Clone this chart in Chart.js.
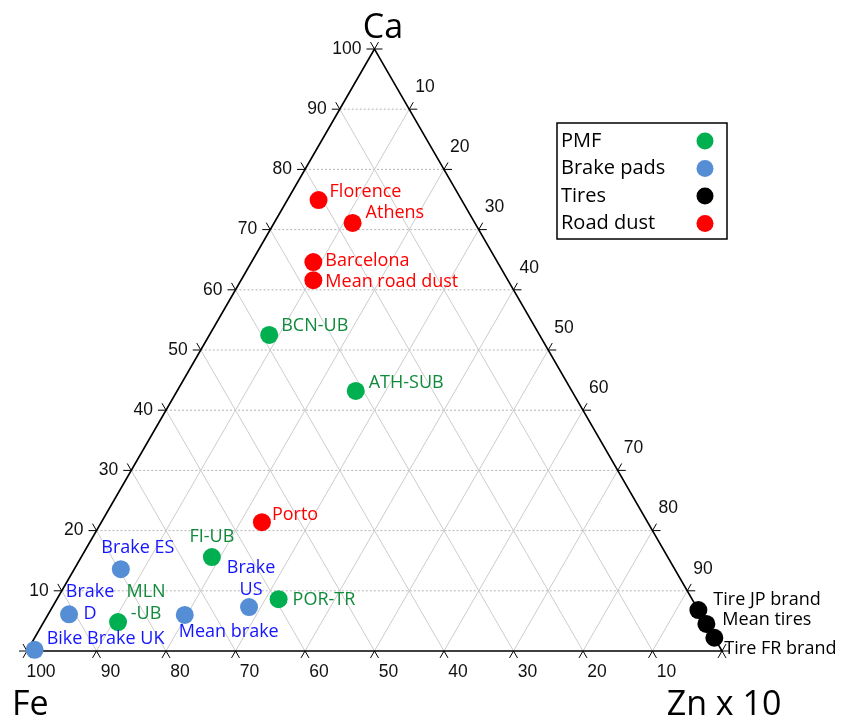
<!DOCTYPE html>
<html>
<head>
<meta charset="utf-8">
<script src="https://cdn.jsdelivr.net/npm/chart.js@4"></script>
<style>
  body { margin: 0; background: #fff; }
  #wrap { width: 845px; height: 720px; position: relative; }
</style>
</head>
<body>
<div id="wrap"><canvas id="ternChart"></canvas></div>
<script>
// DATA (percent of Ca / Fe / Zn x 10)
const pmfNames = ["BCN-UB", "ATH-SUB", "FI-UB", "POR-TR", "MLN-UB"];
const pmfCa = [52.5, 43.2, 15.6, 8.6, 4.8];
const pmfFe = [38.9, 31.1, 65.6, 59.5, 84.5];
const pmfZn = [8.6, 25.7, 18.8, 31.9, 10.7];

const brakeNames = ["Brake ES", "Brake D", "Bike Brake UK", "Mean brake", "Brake US"];
const brakeCa = [13.6, 6.1, 0.2, 6.0, 7.3];
const brakeFe = [79.7, 90.9, 98.8, 74.3, 64.4];
const brakeZn = [6.7, 3.0, 1.0, 19.7, 28.3];

const tireNames = ["Tire JP brand", "Mean tires", "Tire FR brand"];
const tireCa = [6.8, 4.5, 2.2];
const tireFe = [0, 0, 0];
const tireZn = [93.2, 95.5, 97.8];

const dustNames = ["Florence", "Athens", "Barcelona", "Mean road dust", "Porto"];
const dustCa = [74.9, 71.1, 64.6, 61.6, 21.4];
const dustFe = [20.6, 17.6, 26.5, 28.0, 55.5];
const dustZn = [4.5, 11.3, 8.9, 10.4, 23.1];

const caTicks = [10, 20, 30, 40, 50, 60, 70, 80, 90, 100];
const znTicks = [10, 20, 30, 40, 50, 60, 70, 80, 90];
const feTicks = [100, 90, 80, 70, 60, 50, 40, 30, 20, 10];

// ternary -> cartesian (x across the base, y = height)
function tern(ca, fe, zn) {
    const s = ca + fe + zn;
    return { x: 100 * (zn + ca / 2) / s, y: 100 * ca / s };
}
function toPoints(ca, fe, zn) {
    return ca.map((c, i) => tern(c, fe[i], zn[i]));
}

// label placement, offset from the dot centre
const labelPos = {
    "Florence": [11, -8, "left"],
    "Athens": [13, -10, "left"],
    "Barcelona": [12, -1, "left"],
    "Mean road dust": [12, 2, "left"],
    "Porto": [10, -7, "left"],
    "BCN-UB": [12, -9, "left"],
    "ATH-SUB": [13, -8, "left"],
    "FI-UB": [0, -20, "center"],
    "POR-TR": [14, 1, "left"],
    "MLN-UB": [28, -30, "center", ["MLN", "-UB"]],
    "Brake ES": [17, -21, "center"],
    "Brake D": [21, -22, "center", ["Brake", "D"]],
    "Bike Brake UK": [12, -11, "left"],
    "Mean brake": [-6, 17, "left"],
    "Brake US": [2, -39, "center", ["Brake", "US"]],
    "Tire JP brand": [15, -10, "left"],
    "Mean tires": [16, -4, "left"],
    "Tire FR brand": [10, 11, "left"]
};

const LABEL_FONT = '"Open Sans", sans-serif';
const TICK_FONT = '"Liberation Sans", Arial, sans-serif';

function pix(chart, p) {
    return [chart.scales.x.getPixelForValue(p.x), chart.scales.y.getPixelForValue(p.y)];
}

// grid, frame, ticks and tick labels
const ternGrid = {
    id: "ternGrid",
    beforeDatasetsDraw(chart) {
        const ctx = chart.ctx;
        const ext = 8;
        ctx.save();
        const fams = [
            i => [tern(i, 100 - i, 0), tern(i, 0, 100 - i)],   // Ca
            i => [tern(100 - i, i, 0), tern(0, i, 100 - i)],   // Fe
            i => [tern(100 - i, 0, i), tern(0, 100 - i, i)]    // Zn
        ];
        fams.forEach((fam, f) => {
            for (let i = 0; i <= 100; i += 10) {
                let [a, b] = fam(i).map(p => pix(chart, p));
                if (i > 0 && i < 100) {
                    ctx.beginPath();
                    ctx.strokeStyle = f === 0 ? "#b4b4b4" : "#cccccc";
                    ctx.lineWidth = 1;
                    ctx.setLineDash(f === 0 ? [2, 2] : []);
                    ctx.moveTo(a[0], a[1]);
                    ctx.lineTo(b[0], b[1]);
                    ctx.stroke();
                }
                ctx.setLineDash([]);
                ctx.strokeStyle = "#000";
                ctx.lineWidth = 1;
                let dx, dy;
                if (i === 100) {
                    const [a2, b2] = fam(50).map(p => pix(chart, p));
                    dx = b2[0] - a2[0]; dy = b2[1] - a2[1];
                } else {
                    dx = b[0] - a[0]; dy = b[1] - a[1];
                }
                const len = Math.hypot(dx, dy);
                dx /= len; dy /= len;
                ctx.beginPath();
                ctx.moveTo(a[0], a[1]);
                ctx.lineTo(a[0] - dx * ext, a[1] - dy * ext);
                ctx.moveTo(b[0], b[1]);
                ctx.lineTo(b[0] + dx * ext, b[1] + dy * ext);
                ctx.stroke();
            }
        });

        // triangle frame
        const top = pix(chart, tern(100, 0, 0));
        const left = pix(chart, tern(0, 100, 0));
        const right = pix(chart, tern(0, 0, 100));
        ctx.beginPath();
        ctx.strokeStyle = "#000";
        ctx.lineWidth = 1.6;
        ctx.moveTo(top[0], top[1]);
        ctx.lineTo(left[0], left[1]);
        ctx.lineTo(right[0], right[1]);
        ctx.closePath();
        ctx.stroke();

        // tick labels
        ctx.fillStyle = "#111";
        ctx.font = "17.5px " + TICK_FONT;
        ctx.textBaseline = "middle";
        ctx.textAlign = "right";
        caTicks.forEach(v => {
            const p = pix(chart, tern(v, 100 - v, 0));
            ctx.fillText(String(v), p[0] - 13, p[1]);
        });
        ctx.textAlign = "left";
        znTicks.forEach(v => {
            const p = pix(chart, tern(100 - v, 0, v));
            ctx.fillText(String(v), p[0] + 6, p[1] - 22);
        });
        ctx.textAlign = "center";
        feTicks.forEach(v => {
            const p = pix(chart, tern(0, v, 100 - v));
            ctx.fillText(String(v), p[0] + 14, p[1] + 21);
        });
        ctx.restore();
    }
};

// point labels, legend and corner titles
const ternLabels = {
    id: "ternLabels",
    afterDatasetsDraw(chart) {
        const ctx = chart.ctx;
        ctx.save();
        ctx.font = "18px " + LABEL_FONT;
        ctx.textBaseline = "middle";
        chart.data.datasets.forEach((ds, di) => {
            const meta = chart.getDatasetMeta(di);
            ctx.fillStyle = ds.labelColor;
            meta.data.forEach((el, j) => {
                const name = ds.names[j];
                const lp = labelPos[name] || [12, 0, "left"];
                const lines = lp[3] || [name];
                ctx.textAlign = lp[2];
                lines.forEach((t, k) => {
                    ctx.fillText(t, el.x + lp[0], el.y + lp[1] + k * 22);
                });
            });
        });

        // legend box
        const bx = 557, by = 123, bw = 170, bh = 116;
        ctx.fillStyle = "#fff";
        ctx.fillRect(bx, by, bw, bh);
        ctx.strokeStyle = "#000";
        ctx.lineWidth = 1.5;
        ctx.strokeRect(bx, by, bw, bh);
        ctx.font = "20px " + LABEL_FONT;
        ctx.textAlign = "left";
        chart.data.datasets.forEach((ds, di) => {
            const y = by + 18 + di * 27.5;
            ctx.fillStyle = "#000";
            ctx.fillText(ds.label, bx + 4, y);
            ctx.beginPath();
            ctx.fillStyle = ds.backgroundColor;
            ctx.arc(bx + 148, y, 8.5, 0, Math.PI * 2);
            ctx.fill();
        });

        // corner titles
        ctx.fillStyle = "#000";
        ctx.font = "34px " + LABEL_FONT;
        ctx.textAlign = "center";
        ctx.fillText("Ca", 383, 28);
        ctx.textAlign = "left";
        ctx.fillText("Fe", 12, 705);
        ctx.textAlign = "center";
        ctx.fillText("Zn x 10", 724, 705);
        ctx.restore();
    }
};

function makeSet(label, names, ca, fe, zn, color, labelColor) {
    return {
        label: label,
        names: names,
        labelColor: labelColor,
        data: toPoints(ca, fe, zn),
        backgroundColor: color,
        borderWidth: 0,
        pointRadius: 9,
        pointHoverRadius: 9,
        clip: false
    };
}

new Chart(document.getElementById("ternChart"), {
    type: "scatter",
    data: {
        datasets: [
            makeSet("PMF", pmfNames, pmfCa, pmfFe, pmfZn, "#00b050", "#118a3c"),
            makeSet("Brake pads", brakeNames, brakeCa, brakeFe, brakeZn, "#558ed5", "#1414ff"),
            makeSet("Tires", tireNames, tireCa, tireFe, tireZn, "#000000", "#000000"),
            makeSet("Road dust", dustNames, dustCa, dustFe, dustZn, "#ff0000", "#ff0000")
        ]
    },
    options: {
        responsive: true,
        maintainAspectRatio: false,
        animation: false,
        events: [],
        layout: { padding: { left: 27, right: 123, top: 49, bottom: 69 } },
        scales: {
            x: { type: "linear", min: 0, max: 100, display: false },
            y: { type: "linear", min: 0, max: 100, display: false }
        },
        plugins: {
            legend: { display: false },
            tooltip: { enabled: false }
        }
    },
    plugins: [ternGrid, ternLabels]
});
</script>
</body>
</html>
